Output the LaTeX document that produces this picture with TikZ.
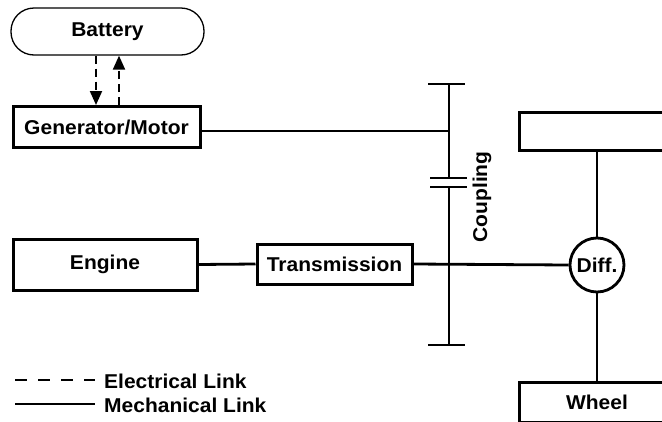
\documentclass[tikz,border=0pt]{standalone}
\usepackage{fontspec}
\setmainfont{Liberation Sans}[FakeStretch=1.05]
\usetikzlibrary{arrows.meta}
\begin{document}
\begin{tikzpicture}[x=1pt,y=-1pt,
  every node/.style={font=\fontsize{20}{22}\selectfont\bfseries},
  blk/.style={draw, line width=3pt, inner sep=0pt},
  mech/.style={line width=2.8pt},
  elec/.style={line width=2pt, dash pattern=on 8pt off 5pt, -{Triangle[length=14pt,width=12pt]}},
  legdash/.style={line width=1.8pt, dash pattern=on 12pt off 11pt},
  legsolid/.style={line width=1.8pt},
]
\useasboundingbox (0,0) rectangle (662,421);
\begin{scope}
\clip (0,0) rectangle (662,421);
% nodes
\node[draw, line width=1.3pt, rounded corners=23pt, minimum width=193pt, minimum height=47pt] (bat) at (107.5,31.5) {Battery};
\node[blk, minimum width=187pt, minimum height=41pt] (gm) at (106.5,127) {Generator/Motor};
\node[blk, minimum width=184pt, minimum height=51pt] (engine) at (105,264.5) {Engine};
\node[blk, minimum width=155pt, minimum height=40pt] (trans) at (334.5,264) {Transmission};
\node[draw, circle, line width=2.8pt, minimum size=54pt, inner sep=0pt] (diff) at (597,265) {Diff.};
\node[blk, minimum width=156pt, minimum height=38pt] (tb) at (597,131) {};
\node[blk, minimum width=156pt, minimum height=40pt] (wheel) at (597,402) {Wheel};
\node[rotate=90] (coup) at (482,197) {Coupling};
% coupling shaft
\coordinate (cT) at (449,84);
\coordinate (cA) at (449,178);
\coordinate (cB) at (449,187);
\coordinate (cBot) at (449,345);
\coordinate (cGM) at (449,131);
\draw[mech] (cT) -- (cA);
\draw[mech] (cB) -- (cBot);
\draw[mech] ([xshift=-21pt]cT) -- ([xshift=16pt]cT);
\draw[mech] ([xshift=-19pt]cA) -- ([xshift=18pt]cA);
\draw[mech] ([xshift=-19pt]cB) -- ([xshift=18pt]cB);
\draw[mech] ([xshift=-21pt]cBot) -- ([xshift=16pt]cBot);
% mechanical links
\draw[mech] (gm.east |- cGM) -- (cGM);
\draw[mech] (engine.east) -- (trans.west);
\draw[mech] (trans.east) -- (diff.west);
\draw[mech] (diff.north) -- (diff.north |- tb.south);
\draw[mech] (diff.south) -- (diff.south |- wheel.north);
% electrical links
\coordinate (bd) at (96,0);
\coordinate (bu) at (119,0);
\draw[elec] (bat.south -| bd) -- (gm.north -| bd);
\draw[elec] (gm.north -| bu) -- (bat.south -| bu);
% legend
\coordinate (l1a) at (15,380);
\coordinate (l1b) at (95,380);
\coordinate (l2a) at (15,404);
\coordinate (l2b) at (95,404);
\draw[legdash] (l1a) -- (l1b);
\draw[legsolid] (l2a) -- (l2b);
\node[anchor=west, inner sep=0pt] (le) at (104,381) {Electrical Link};
\node[anchor=west, inner sep=0pt] (lm) at (104,405) {Mechanical Link};
\end{scope}
\end{tikzpicture}
\end{document}
